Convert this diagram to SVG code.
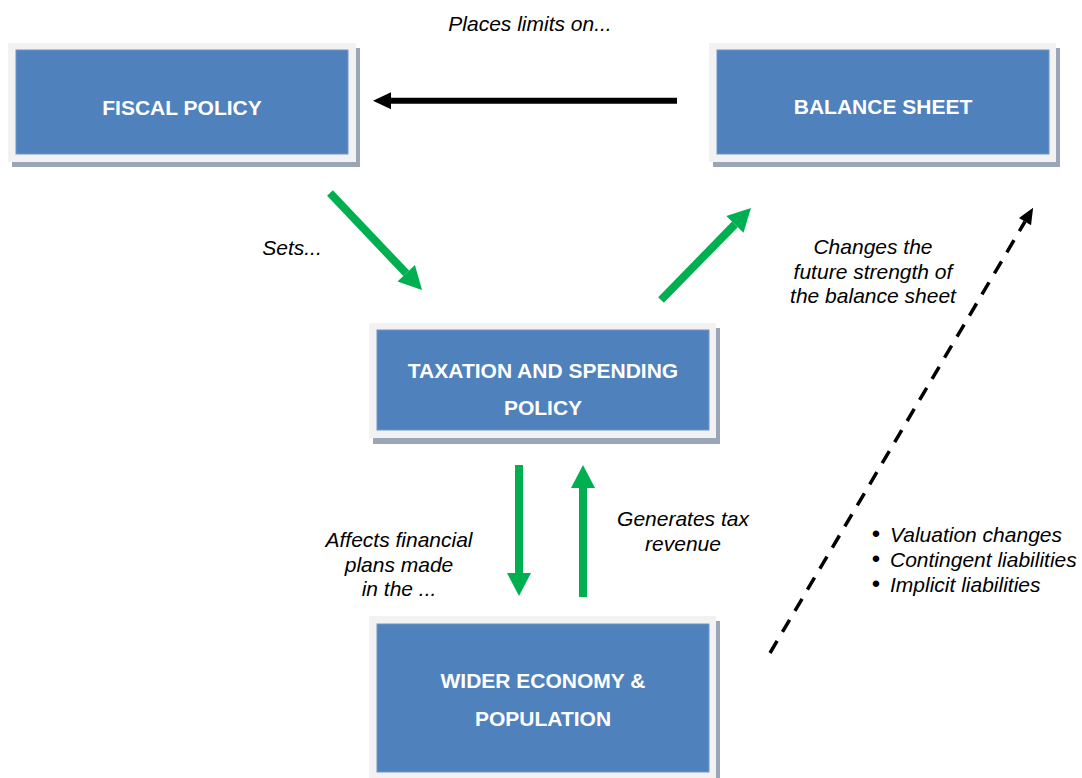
<svg xmlns="http://www.w3.org/2000/svg" width="1082" height="778" viewBox="0 0 1082 778">
  <style>
    .frame { fill: #f2f2f2; }
    .shadow { fill: #9aa5b8; }
    .box { fill: #4f81bd; stroke: #7396c8; stroke-width: 1; }
    .lbl { font-family: "Liberation Sans", Arial, sans-serif; font-size: 21px; font-weight: bold; fill: #ffffff; text-anchor: middle; }
    .note { font-family: "Liberation Sans", Arial, sans-serif; font-size: 21px; font-style: italic; fill: #000000; }
    .mid { text-anchor: middle; }
    .bul { font-family: "Liberation Sans", Arial, sans-serif; font-size: 24px; fill: #000000; text-anchor: middle; }
    .green { stroke: #00b050; stroke-width: 8; fill: none; }
  </style>
  <defs>
    <marker id="gHead" markerUnits="userSpaceOnUse" markerWidth="23" markerHeight="24" refX="0" refY="12" orient="auto" overflow="visible">
      <path d="M0,0 L23,12 L0,24 z" fill="#00b050"/>
    </marker>
    <marker id="bHead" markerUnits="userSpaceOnUse" markerWidth="18" markerHeight="17" refX="0" refY="8.5" orient="auto" overflow="visible">
      <path d="M0,0 L18,8.5 L0,17 z" fill="#000000"/>
    </marker>
    <marker id="dHead" markerUnits="userSpaceOnUse" markerWidth="16" markerHeight="14" refX="0" refY="7" orient="auto" overflow="visible">
      <path d="M0,0 L16,7 L0,14 z" fill="#000000"/>
    </marker>
  </defs>

  <g id="fiscal-policy">
    <rect class="shadow" x="12" y="48" width="348" height="119"/>
    <rect class="frame" x="8" y="43" width="348" height="119"/>
    <rect class="box" x="16" y="50" width="332" height="104"/>
    <text class="lbl" x="182" y="115">FISCAL POLICY</text>
  </g>

  <g id="balance-sheet">
    <rect class="shadow" x="713" y="48" width="347" height="119"/>
    <rect class="frame" x="709" y="43" width="347" height="119"/>
    <rect class="box" x="717" y="50" width="332" height="104"/>
    <text class="lbl" x="883" y="114">BALANCE SHEET</text>
  </g>

  <g id="taxation-spending">
    <rect class="shadow" x="373" y="328" width="347" height="116"/>
    <rect class="frame" x="369" y="323" width="347" height="115"/>
    <rect class="box" x="377" y="330" width="332" height="100"/>
    <text class="lbl" x="543" y="378">TAXATION AND SPENDING</text>
    <text class="lbl" x="543" y="415">POLICY</text>
  </g>

  <g id="wider-economy">
    <rect class="shadow" x="373" y="621" width="347" height="162"/>
    <rect class="frame" x="369" y="616" width="347" height="165"/>
    <rect class="box" x="377" y="624" width="332" height="148"/>
    <text class="lbl" x="543" y="688">WIDER ECONOMY &amp;</text>
    <text class="lbl" x="543" y="726">POPULATION</text>
  </g>

  <g id="connectors">
    <line x1="677" y1="100.7" x2="391" y2="100.7" stroke="#000000" stroke-width="6" marker-end="url(#bHead)"/>
    <line class="green" x1="330" y1="193" x2="406.2" y2="273.3" marker-end="url(#gHead)"/>
    <line class="green" x1="661" y1="300" x2="734.9" y2="224.4" marker-end="url(#gHead)"/>
    <line class="green" x1="519" y1="465" x2="519" y2="573" marker-end="url(#gHead)"/>
    <line class="green" x1="583" y1="597" x2="583" y2="488" marker-end="url(#gHead)"/>
    <line x1="770" y1="653" x2="1025" y2="221.6" stroke="#000000" stroke-width="3.5" stroke-dasharray="14 10.5" marker-end="url(#dHead)"/>
  </g>

  <g id="labels">
    <text class="note mid" x="530" y="30.5">Places limits on...</text>
    <text class="note mid" x="292" y="255">Sets...</text>
    <text class="note mid" x="873" y="254">Changes the</text>
    <text class="note mid" x="873" y="278.5">future strength of</text>
    <text class="note mid" x="873" y="303">the balance sheet</text>
    <text class="note mid" x="399" y="547">Affects financial</text>
    <text class="note mid" x="399" y="571.5">plans made</text>
    <text class="note mid" x="399" y="596">in the ...</text>
    <text class="note mid" x="683" y="526">Generates tax</text>
    <text class="note mid" x="683" y="550.5">revenue</text>
    <text class="bul" x="876" y="542">•</text>
    <text class="bul" x="876" y="567">•</text>
    <text class="bul" x="876" y="592">•</text>
    <text class="note" x="890" y="541.5">Valuation changes</text>
    <text class="note" x="890" y="566.5">Contingent liabilities</text>
    <text class="note" x="890" y="591.5">Implicit liabilities</text>
  </g>
</svg>
